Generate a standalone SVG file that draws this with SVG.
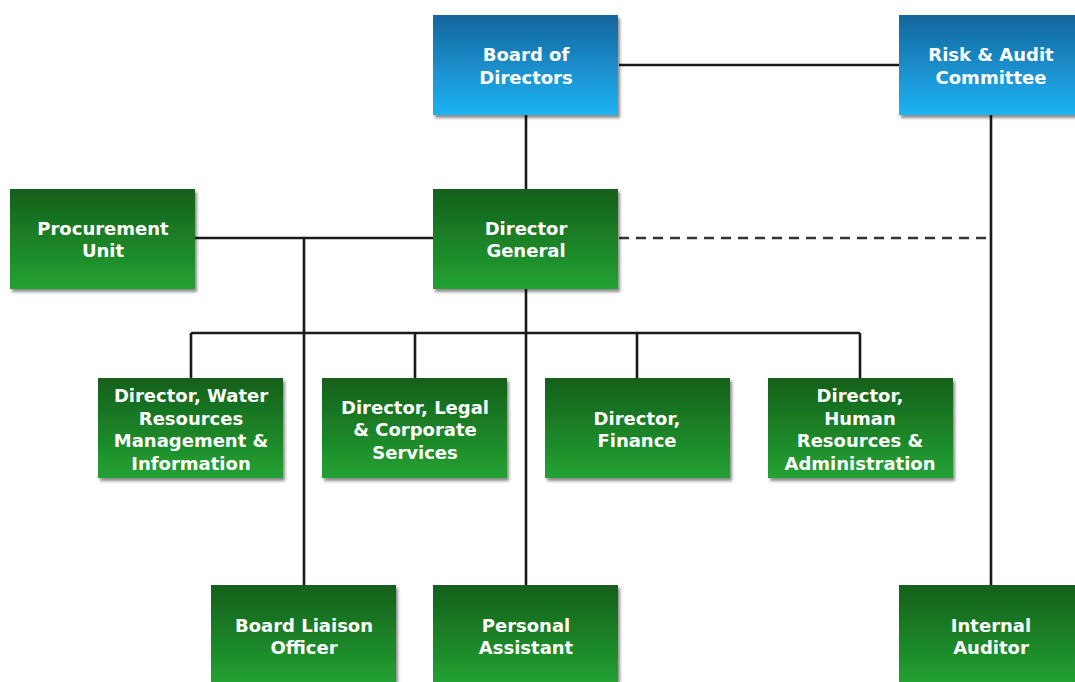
<svg xmlns="http://www.w3.org/2000/svg" width="1075" height="682" viewBox="0 0 1075 682">
<defs>
<linearGradient id="gb" x1="0" y1="0" x2="0" y2="1">
<stop offset="0" stop-color="#15659c"/>
<stop offset="1" stop-color="#1fb3f5"/>
</linearGradient>
<linearGradient id="gg" x1="0" y1="0" x2="0" y2="1">
<stop offset="0" stop-color="#145f1a"/>
<stop offset="1" stop-color="#23a233"/>
</linearGradient>
<filter id="sh" x="-10%" y="-10%" width="130%" height="130%">
<feDropShadow dx="2" dy="3" stdDeviation="1.5" flood-color="#000" flood-opacity="0.45"/>
</filter>
</defs>
<style>
.b{fill:url(#gb);filter:url(#sh)}
.g{fill:url(#gg);filter:url(#sh)}
text{font-family:"DejaVu Sans",Verdana,sans-serif;font-weight:bold;font-size:18px;fill:#fff;text-anchor:middle}
.c{stroke:#1a1a1a;stroke-width:2.6;fill:none}
.d{stroke:#333;stroke-width:2.6;fill:none;stroke-dasharray:10 7}
</style>
<rect width="1075" height="682" fill="#fff"/>
<g id="connectors">
<path class="c" d="M619 65H899"/>
<path class="c" d="M526 115V189"/>
<path class="c" d="M195 238H433"/>
<path class="c" d="M304 238V585"/>
<path class="c" d="M991 115V585"/>
<path class="c" d="M526 289V585"/>
<path class="c" d="M191 333H860"/>
<path class="c" d="M191 333V378M415 333V378M637 333V378M860 333V378"/>
<path class="d" d="M619 238H991"/>
</g>
<g id="board"><rect class="b" x="433" y="15" width="185" height="100"/><text x="526" y="61">Board of</text><text x="526" y="84">Directors</text></g>
<g id="risk"><rect class="b" x="899" y="15" width="185" height="100"/><text x="991" y="61">Risk &amp; Audit</text><text x="991" y="84">Committee</text></g>
<g id="procurement"><rect class="g" x="10" y="189" width="185" height="100"/><text x="103" y="235">Procurement</text><text x="103" y="257">Unit</text></g>
<g id="dg"><rect class="g" x="433" y="189" width="185" height="100"/><text x="526" y="235">Director</text><text x="526" y="257">General</text></g>
<g id="water"><rect class="g" x="98" y="378" width="185" height="100"/><text x="191" y="402">Director, Water</text><text x="191" y="425">Resources</text><text x="191" y="447">Management &amp;</text><text x="191" y="470">Information</text></g>
<g id="legal"><rect class="g" x="322" y="378" width="185" height="100"/><text x="415" y="414">Director, Legal</text><text x="415" y="436">&amp; Corporate</text><text x="415" y="459">Services</text></g>
<g id="finance"><rect class="g" x="545" y="378" width="185" height="100"/><text x="637" y="425">Director,</text><text x="637" y="447">Finance</text></g>
<g id="hr"><rect class="g" x="768" y="378" width="185" height="100"/><text x="860" y="402">Director,</text><text x="860" y="425">Human</text><text x="860" y="447">Resources &amp;</text><text x="860" y="470">Administration</text></g>
<g id="liaison"><rect class="g" x="211" y="585" width="185" height="100"/><text x="304" y="632">Board Liaison</text><text x="304" y="654">Officer</text></g>
<g id="pa"><rect class="g" x="433" y="585" width="185" height="100"/><text x="526" y="632">Personal</text><text x="526" y="654">Assistant</text></g>
<g id="auditor"><rect class="g" x="899" y="585" width="185" height="100"/><text x="991" y="632">Internal</text><text x="991" y="654">Auditor</text></g>
</svg>
